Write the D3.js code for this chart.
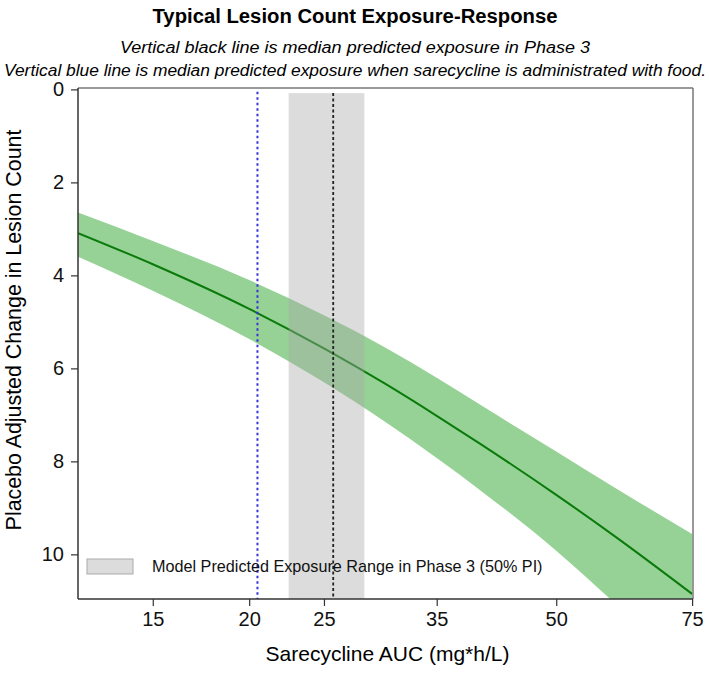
<!DOCTYPE html>
<html>
<head>
<meta charset="utf-8">
<script src="https://cdn.jsdelivr.net/npm/d3@7"></script>
<style>
  body { margin: 0; background: #fff; }
  svg { font-family: "Liberation Sans", Arial, sans-serif; }
</style>
</head>
<body>
<div id="chart"></div>
<script>
// exposure grid (AUC, mg*h/L) and predicted change in lesion count
const auc = [12, 15, 20, 25, 30, 35, 40, 50, 60, 75];
const median = [3.09, 3.76, 4.72, 5.57, 6.33, 7.02, 7.64, 8.72, 9.65, 10.85];
const upper = [2.65, 3.26, 4.10, 4.86, 5.55, 6.20, 6.80, 7.79, 8.60, 9.56];
const lower = [3.60, 4.33, 5.37, 6.30, 7.15, 7.93, 8.64, 9.92, 11.10, 12.60];

const xTicks = [15, 20, 25, 35, 50, 75];
const yTicks = [0, 2, 4, 6, 8, 10];

// reference lines and phase 3 range
const medianPhase3 = 25.7;
const medianFood = 20.5;
const phase3Range = [22.5, 28.2];

const width = 709, height = 676;
const margin = { top: 88, right: 16, bottom: 77, left: 78 };

const svg = d3.select('#chart').append('svg')
    .attr('width', width)
    .attr('height', height);

const x = d3.scaleLog()
    .domain([12, 75.2])
    .range([margin.left, width - margin.right]);

const y = d3.scaleLinear()
    .domain([-0.03, 10.96])
    .range([margin.top, height - margin.bottom]);

svg.append('defs').append('clipPath').attr('id', 'plot')
    .append('rect')
    .attr('x', margin.left)
    .attr('y', margin.top)
    .attr('width', width - margin.left - margin.right)
    .attr('height', height - margin.top - margin.bottom);

const plot = svg.append('g').attr('clip-path', 'url(#plot)');

const rows = auc.map((a, i) => ({ a, m: median[i], lo: upper[i], hi: lower[i] }));

// prediction interval band
plot.append('path')
    .datum(rows)
    .attr('fill', 'rgb(45,165,45)')
    .attr('fill-opacity', 0.5)
    .attr('d', d3.area()
        .x(d => x(d.a))
        .y0(d => y(d.lo))
        .y1(d => y(d.hi))
        .curve(d3.curveMonotoneX));

// median curve
plot.append('path')
    .datum(rows)
    .attr('fill', 'none')
    .attr('stroke', '#0a7a0a')
    .attr('stroke-width', 2)
    .attr('d', d3.line()
        .x(d => x(d.a))
        .y(d => y(d.m))
        .curve(d3.curveMonotoneX));

// phase 3 exposure range (grey, semi transparent on top)
plot.append('rect')
    .attr('x', x(phase3Range[0]))
    .attr('y', y(0.08))
    .attr('width', x(phase3Range[1]) - x(phase3Range[0]))
    .attr('height', y(10.96) - y(0.08))
    .attr('fill', '#a8a8a8')
    .attr('fill-opacity', 0.4);

// vertical lines
plot.append('line')
    .attr('x1', x(medianFood)).attr('x2', x(medianFood))
    .attr('y1', y(0.05)).attr('y2', y(10.96))
    .attr('stroke', '#3535d8')
    .attr('stroke-width', 2)
    .attr('stroke-dasharray', '2.5,3');

plot.append('line')
    .attr('x1', x(medianPhase3)).attr('x2', x(medianPhase3))
    .attr('y1', y(0.08)).attr('y2', y(10.96))
    .attr('stroke', '#222')
    .attr('stroke-width', 1.8)
    .attr('stroke-dasharray', '3,2.5');

// frame
svg.append('line')
    .attr('x1', margin.left).attr('x2', width - margin.right)
    .attr('y1', margin.top).attr('y2', margin.top)
    .attr('stroke', '#777').attr('stroke-width', 1.5);
svg.append('line')
    .attr('x1', width - margin.right).attr('x2', width - margin.right)
    .attr('y1', margin.top).attr('y2', height - margin.bottom)
    .attr('stroke', '#777').attr('stroke-width', 1.5);

// axes
const xAxis = d3.axisBottom(x)
    .tickValues(xTicks)
    .tickFormat(d3.format('d'))
    .tickSize(7)
    .tickPadding(6);

const gx = svg.append('g')
    .attr('transform', `translate(0,${height - margin.bottom})`)
    .call(xAxis);

const yAxis = d3.axisLeft(y)
    .tickValues(yTicks)
    .tickSize(7)
    .tickPadding(7);

const gy = svg.append('g')
    .attr('transform', `translate(${margin.left},0)`)
    .call(yAxis);

[gx, gy].forEach(g => {
    g.select('.domain').attr('stroke', '#333').attr('stroke-width', 1.5);
    g.selectAll('.tick line').attr('stroke', '#333').attr('stroke-width', 1.2);
    g.selectAll('.tick text')
        .attr('fill', '#111')
        .style('font-size', '20px')
        .style('font-family', '"Liberation Sans", Arial, sans-serif');
});
gx.select('.domain').attr('d', `M${margin.left},0H${width - margin.right}`);
gy.select('.domain').attr('d', `M0,${margin.top}V${height - margin.bottom}`);

// legend
const legend = svg.append('g');
legend.append('rect')
    .attr('x', 87).attr('y', 559)
    .attr('width', 46).attr('height', 15)
    .attr('fill', '#dcdcdc')
    .attr('stroke', '#aaa');
legend.append('text')
    .attr('x', 152).attr('y', 572)
    .style('font-size', '16.2px')
    .attr('fill', '#111')
    .text('Model Predicted Exposure Range in Phase 3 (50% PI)');

// titles
svg.append('text')
    .attr('x', 355).attr('y', 23)
    .attr('text-anchor', 'middle')
    .style('font-size', '20px')
    .style('font-weight', 'bold')
    .attr('textLength', 405)
    .attr('lengthAdjust', 'spacingAndGlyphs')
    .text('Typical Lesion Count Exposure-Response');

svg.append('text')
    .attr('x', 355).attr('y', 53)
    .attr('text-anchor', 'middle')
    .style('font-size', '16px')
    .style('font-style', 'italic')
    .attr('textLength', 470)
    .attr('lengthAdjust', 'spacingAndGlyphs')
    .text('Vertical black line is median predicted exposure in Phase 3');

svg.append('text')
    .attr('x', 355).attr('y', 76)
    .attr('text-anchor', 'middle')
    .style('font-size', '16px')
    .style('font-style', 'italic')
    .attr('textLength', 702)
    .attr('lengthAdjust', 'spacingAndGlyphs')
    .text('Vertical blue line is median predicted exposure when sarecycline is administrated with food.');

svg.append('text')
    .attr('x', (margin.left + width - margin.right) / 2 + 2)
    .attr('y', 661)
    .attr('text-anchor', 'middle')
    .style('font-size', '21px')
    .text('Sarecycline AUC (mg*h/L)');

svg.append('text')
    .attr('transform', 'translate(21,330) rotate(-90)')
    .attr('text-anchor', 'middle')
    .style('font-size', '21.4px')
    .text('Placebo Adjusted Change in Lesion Count');
</script>
</body>
</html>
